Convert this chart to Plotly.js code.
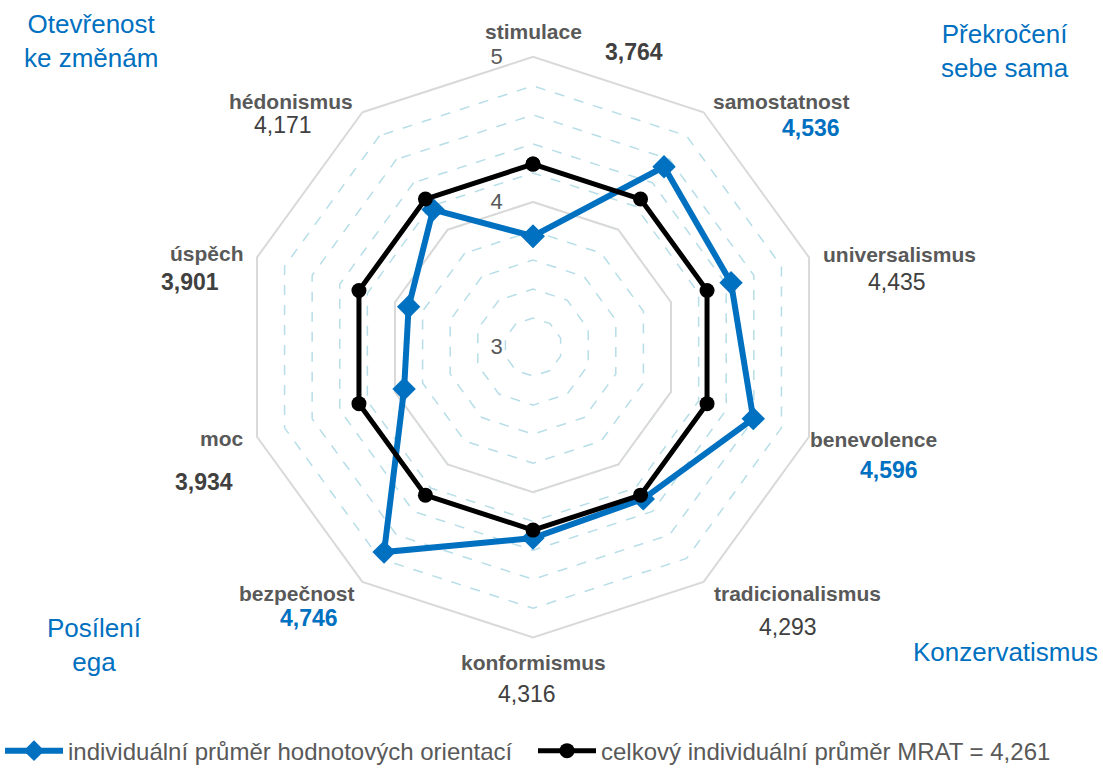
<!DOCTYPE html>
<html>
<head>
<meta charset="utf-8">
<script src="https://cdn.plot.ly/plotly-3.0.1.min.js"></script>
<style>
  html, body { margin: 0; padding: 0; background: #ffffff; }
  #chart { width: 1103px; height: 774px; }
</style>
</head>
<body>
<div id="chart"></div>
<script>
// Value orientations (clockwise from the top)
const categories = ['stimulace', 'samostatnost', 'universalismus', 'benevolence', 'tradicionalismus',
                    'konformismus', 'bezpečnost', 'moc', 'úspěch', 'hédonismus'];
const individual = [3.764, 4.536, 4.435, 4.596, 4.293, 4.316, 4.746, 3.934, 3.901, 4.171];
const mrat = 4.261;
const overall = categories.map(() => mrat);

// Radial scale: rings every 0.2, labels on whole numbers
const radialTicks = [3, 3.2, 3.4, 3.6, 3.8, 4, 4.2, 4.4, 4.6, 4.8, 5];
const radialTickText = ['3', '', '', '', '', '4', '', '', '', '', '5'];
const majorRing = 4;

const groupNames = ['Otevřenost<br>ke změnám', 'Překročení<br>sebe sama', 'Posílení<br>ega', 'Konzervatismus'];
const seriesNames = ['individuální průměr hodnotových orientací', 'celkový individuální průměr MRAT = 4,261'];

// ---- layout helpers ----
const W = 1103, H = 774;
const cx = 533, cy = 348, R = 291;
const px = (x, y) => ({ x: x / W, y: 1 - y / H });

// label anchors in px: [name x, name y, value x, value y]
const labelPos = [
  [533, 32, 634, 52],
  [781, 102, 811, 128],
  [899, 255, 897, 283],
  [873, 441, 889, 471],
  [797, 595, 788, 629],
  [533, 664, 527, 696],
  [297, 595, 309, 620],
  [222, 440, 204, 483],
  [207, 254, 190, 283],
  [291, 102, 283, 125]
];
const groupPos = [[91, 41], [1005, 51], [94, 647], [1006, 654]];

const BLUE = '#0070C0';
const GREY = '#595959';
const DARK = '#404040';
const FONT = 'Liberation Sans, Arial, sans-serif';

const closeLoop = a => a.concat([a[0]]);
const fmt = v => v.toFixed(3).replace('.', ',');

// highest three values in blue bold, lowest three in dark bold, the rest plain
const order = individual.map((v, i) => i).sort((a, b) => individual[a] - individual[b]);
const rank = new Array(individual.length);
order.forEach((idx, k) => { rank[idx] = k; });
const valueStyle = i => {
  if (rank[i] >= individual.length - 3) return { color: BLUE, weight: 'bold' };
  if (rank[i] < 3) return { color: DARK, weight: 'bold' };
  return { color: DARK, weight: 'normal' };
};

const traces = [
  {
    type: 'scatterpolar',
    r: closeLoop(categories.map(() => majorRing)),
    theta: closeLoop(categories),
    mode: 'lines',
    line: { color: '#D9D9D9', width: 2 },
    hoverinfo: 'skip',
    showlegend: false
  },
  {
    type: 'scatterpolar',
    name: seriesNames[0],
    r: closeLoop(individual),
    theta: closeLoop(categories),
    mode: 'lines+markers',
    line: { color: BLUE, width: 6 },
    marker: { symbol: 'diamond', size: 18, color: BLUE }
  },
  {
    type: 'scatterpolar',
    name: seriesNames[1],
    r: closeLoop(overall),
    theta: closeLoop(categories),
    mode: 'lines+markers',
    line: { color: '#000000', width: 5 },
    marker: { symbol: 'circle', size: 15, color: '#000000' }
  }
];

const annotations = [];
categories.forEach((name, i) => {
  const p = labelPos[i];
  const a = px(p[0], p[1]);
  annotations.push({
    xref: 'paper', yref: 'paper', x: a.x, y: a.y,
    xanchor: 'center', yanchor: 'middle', showarrow: false,
    text: name,
    font: { family: FONT, size: 21, color: GREY, weight: 'bold' }
  });
  const b = px(p[2], p[3]);
  const st = valueStyle(i);
  annotations.push({
    xref: 'paper', yref: 'paper', x: b.x, y: b.y,
    xanchor: 'center', yanchor: 'middle', showarrow: false,
    text: fmt(individual[i]),
    font: { family: FONT, size: 23, color: st.color, weight: st.weight }
  });
});
groupNames.forEach((g, i) => {
  const a = px(groupPos[i][0], groupPos[i][1]);
  annotations.push({
    xref: 'paper', yref: 'paper', x: a.x, y: a.y,
    xanchor: 'center', yanchor: 'middle', align: 'center', showarrow: false,
    text: g,
    font: { family: FONT, size: 26, color: BLUE }
  });
});

const layout = {
  width: W, height: H,
  margin: { l: 0, r: 0, t: 0, b: 0 },
  paper_bgcolor: '#ffffff',
  font: { family: FONT, color: GREY },
  showlegend: true,
  legend: {
    orientation: 'h',
    x: 0, xanchor: 'left',
    y: 1 - 753 / H, yanchor: 'middle',
    font: { family: FONT, size: 24, color: GREY },
    itemwidth: 58,
    entrywidth: 460,
    entrywidthmode: 'pixels',
    bgcolor: 'rgba(0,0,0,0)'
  },
  polar: {
    domain: { x: [(cx - R) / W, (cx + R) / W], y: [1 - (cy + R) / H, 1 - (cy - R) / H] },
    bgcolor: '#ffffff',
    gridshape: 'linear',
    radialaxis: {
      range: [3, 5],
      angle: 90,
      side: 'counterclockwise',
      tickvals: radialTicks,
      ticktext: radialTickText,
      ticks: 'outside',
      ticklen: 22,
      tickcolor: 'rgba(0,0,0,0)',
      tickfont: { family: FONT, size: 22, color: GREY },
      tickangle: 90,
      showline: false,
      showgrid: true,
      gridcolor: '#B7DEE8',
      gridwidth: 1.5,
      griddash: '10px,10px'
    },
    angularaxis: {
      direction: 'clockwise',
      rotation: 90,
      showgrid: false,
      showticklabels: false,
      ticks: '',
      showline: true,
      linecolor: '#D9D9D9',
      linewidth: 2
    }
  },
  annotations: annotations
};

Plotly.newPlot('chart', traces, layout, { displayModeBar: false, staticPlot: true });
</script>
</body>
</html>
